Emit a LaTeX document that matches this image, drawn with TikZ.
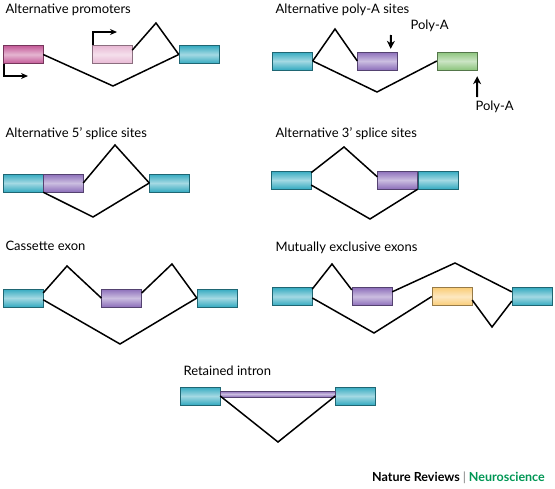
\documentclass[tikz,border=0pt]{standalone}
\usepackage{fontspec}
\setmainfont{Lato}
\usetikzlibrary{arrows.meta}
\definecolor{exteal}{RGB}{52,170,192}
\definecolor{exmagenta}{RGB}{196,90,152}
\definecolor{expink}{RGB}{232,184,212}
\definecolor{expurple}{RGB}{140,110,186}
\definecolor{exgreen}{RGB}{140,196,124}
\definecolor{exyellow}{RGB}{250,204,118}
\definecolor{nrgreen}{RGB}{0,150,84}
\begin{document}
\begin{tikzpicture}[x=1pt,y=-1pt,
		exon/.style={draw=#1!60!black,top color=#1,bottom color=#1,middle color=#1!45!white,
			minimum width=40pt,minimum height=18pt,inner sep=0pt},
		title/.style={anchor=base west,font=\fontsize{13}{15}\selectfont},
		junction/.style={line width=1.5pt,line join=miter},
		tss/.style={line width=1.5pt,-{Stealth[length=7pt,width=6pt]}},
		polya/.style={line width=2pt,-{Stealth[length=8pt,width=8pt]}}]
	\useasboundingbox (0,0) rectangle (555,488);
	% alternative promoters
	\node[title] (t1) at (2,13) {Alternative promoters};
	\node[exon=exmagenta] (p1) at (23,54.5) {};
	\node[exon=expink] (p2) at (112,54.5) {};
	\node[exon=exteal] (p3) at (199,54.5) {};
	\coordinate (p4) at (156,23);
	\coordinate (p5) at (113,86);
	\draw[junction] (p2.12) -- (p4) -- (p3.west);
	\draw[junction] (p1.east) -- (p5) -- (p3.west);
	\coordinate (a1) at (28,76);
	\coordinate (a2) at (117,32);
	\draw[tss] ([xshift=1pt]p1.south west) |- (a1);
	\draw[tss] ([xshift=1pt]p2.north west) |- (a2);
	% alternative poly-A sites
	\node[title] (t2) at (272,13) {Alternative poly-A sites};
	\node[exon=exteal] (q1) at (292.5,61) {};
	\node[exon=expurple] (q2) at (377.5,61) {};
	\node[exon=exgreen] (q3) at (457,61) {};
	\coordinate (q4) at (335,29);
	\coordinate (q5) at (377,92);
	\draw[junction] (q1.east) -- (q4) -- (q2.west);
	\draw[junction] (q1.east) -- (q5) -- (q3.west);
	\node[title] (l1) at (407,29) {Poly-A};
	\node[title] (l2) at (472,110) {Poly-A};
	\coordinate (pa1) at (391,35);
	\coordinate (pa2) at (477,97);
	\draw[polya] (pa1) -- ([xshift=-7pt,yshift=3pt]q2.north east);
	\draw[polya] (pa2) -- ([yshift=-6pt]q3.south east);
	% alternative 5' splice sites
	\node[title] (t3) at (2,137) {Alternative 5’ splice sites};
	\node[exon=exteal] (r1) at (23,183) {};
	\node[exon=expurple] (r2) at (63,183) {};
	\node[exon=exteal] (r3) at (169.5,183) {};
	\coordinate (r4) at (115,145);
	\coordinate (r5) at (93,217);
	\draw[junction] (r2.east) -- (r4) -- (r3.west);
	\draw[junction] (r1.south east) -- (r5) -- (r3.west);
	% alternative 3' splice sites
	\node[title] (t4) at (272,137) {Alternative 3’ splice sites};
	\node[exon=exteal] (s1) at (291,180) {};
	\node[exon=expurple] (s2) at (397.5,180) {};
	\node[exon=exteal] (s3) at (438,180) {};
	\coordinate (s4) at (344,147);
	\coordinate (s5) at (370,219);
	\draw[junction] (s1.20) -- (s4) -- (s2.171);
	\draw[junction] (s1.-14) -- (s5) -- (s2.south east);
	% cassette exon
	\node[title] (t5) at (2,250) {Cassette exon};
	\node[exon=exteal] (c1) at (23,298) {};
	\node[exon=expurple] (c2) at (121.5,298) {};
	\node[exon=exteal] (c3) at (217,298) {};
	\coordinate (c4) at (67,266);
	\coordinate (c5) at (172,264);
	\coordinate (c6) at (120,344);
	\draw[junction] (c1.14) -- (c4) -- (c2.west);
	\draw[junction] (c2.14) -- (c5) -- (c3.west);
	\draw[junction] (c1.-5) -- (c6) -- (c3.west);
	% mutually exclusive exons
	\node[title] (t6) at (272,251) {Mutually exclusive exons};
	\node[exon=exteal] (m1) at (292,296.5) {};
	\node[exon=expurple] (m2) at (372,296.5) {};
	\node[exon=exyellow] (m3) at (452,296.5) {};
	\node[exon=exteal] (m4) at (532,296.5) {};
	\coordinate (m5) at (332,264);
	\coordinate (m6) at (455,263);
	\coordinate (m7) at (374,333);
	\coordinate (m8) at (492,327);
	\draw[junction] (m1.20) -- (m5) -- (m2.162);
	\draw[junction] (m2.13) -- (m6) -- (m4.167);
	\draw[junction] (m1.-4) -- (m7) -- (m3.west);
	\draw[junction] (m3.-10) -- (m8) -- (m4.193);
	% retained intron
	\node[title] (t7) at (180,375) {Retained intron};
	\node[exon=exteal] (i1) at (200,396) {};
	\node[exon=exteal] (i2) at (355.5,396) {};
	\node[exon=expurple,minimum width=115pt,minimum height=6pt] (i3) at (277.5,394) {};
	\coordinate (i4) at (278,442);
	\draw[junction] (i1.east) -- (i4) -- (i2.west);
	% journal
	\node[anchor=base east,inner sep=0pt,font=\fontsize{12.5}{14}\selectfont\bfseries] (nr) at (545,481)
		{Nature Reviews {\color{gray}\mdseries|} {\color{nrgreen}Neuroscience}};
\end{tikzpicture}
\end{document}
